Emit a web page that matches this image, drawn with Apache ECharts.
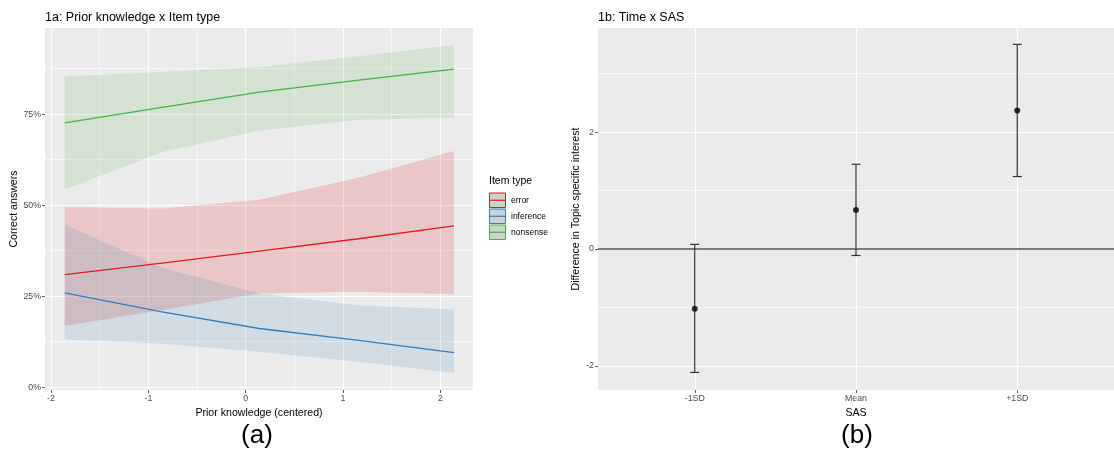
<!DOCTYPE html>
<html>
<head>
<meta charset="utf-8">
<script src="https://cdn.jsdelivr.net/npm/echarts@6/dist/echarts.min.js"></script>
<style>html,body{margin:0;padding:0;background:#fff}#c{width:1114px;height:454px}</style>
</head>
<body>
<div id="c"></div>
<script>
// ---------- Panel 1a data ----------
var priorKnowledge = [-1.86, -0.86, 0.14, 1.14, 2.14];
var itemTypes = ['error', 'inference', 'nonsense'];
var errorFit   = [0.309, 0.341, 0.374, 0.407, 0.443];
var errorLow   = [0.168, 0.212, 0.257, 0.262, 0.255];
var errorHigh  = [0.495, 0.491, 0.515, 0.574, 0.649];
var inferenceFit  = [0.259, 0.207, 0.161, 0.129, 0.095];
var inferenceLow  = [0.131, 0.120, 0.097, 0.070, 0.039];
var inferenceHigh = [0.447, 0.328, 0.257, 0.225, 0.213];
var nonsenseFit  = [0.726, 0.769, 0.811, 0.843, 0.874];
var nonsenseLow  = [0.543, 0.646, 0.705, 0.734, 0.741];
var nonsenseHigh = [0.854, 0.866, 0.880, 0.909, 0.940];
var xTicksA = [-2, -1, 0, 1, 2];
var xMinorA = [-1.5, -0.5, 0.5, 1.5];
var yTicksA = [0, 0.25, 0.5, 0.75];
var yMinorA = [0.125, 0.375, 0.625, 0.875];

// ---------- Panel 1b data ----------
var sasLevels = ['-1SD', 'Mean', '+1SD'];
var sasEstimate = [-1.02, 0.67, 2.37];
var sasLower = [-2.11, -0.11, 1.24];
var sasUpper = [0.08, 1.45, 3.50];
var yTicksB = [-2, 0, 2];
var yMinorB = [-1, 1, 3];

var colors = {error: '#E41A1C', inference: '#377EB8', nonsense: '#4DAF4A'};
var fills = {error: 'rgba(228,26,28,0.17)', inference: 'rgba(55,126,184,0.15)', nonsense: 'rgba(77,175,74,0.15)'};
var groups = {
  error: [errorFit, errorLow, errorHigh],
  inference: [inferenceFit, inferenceLow, inferenceHigh],
  nonsense: [nonsenseFit, nonsenseLow, nonsenseHigh]
};

var FONT = 'Liberation Sans, Arial, sans-serif';
var tickLbl = {color: '#4D4D4D', fontSize: 8.8, fontFamily: FONT};
var tickLine = {color: '#333333', width: 0.8};

function pairs(xs, ys) { return xs.map(function (x, i) { return [x, ys[i]]; }); }

var series = [];
// confidence ribbons: one polygon per item type, built through the axes
itemTypes.forEach(function (t) {
  var g = groups[t];
  series.push({
    type: 'custom', xAxisIndex: 0, yAxisIndex: 0, silent: true, z: 1,
    data: priorKnowledge.map(function (x, i) { return [x, g[1][i], g[2][i]]; }),
    encode: {x: 0, y: [1, 2]},
    renderItem: function (params, api) {
      if (params.dataIndex !== 0) return null;
      var pts = [];
      for (var i = 0; i < priorKnowledge.length; i++) pts.push(api.coord([priorKnowledge[i], g[2][i]]));
      for (var j = priorKnowledge.length - 1; j >= 0; j--) pts.push(api.coord([priorKnowledge[j], g[1][j]]));
      return {type: 'polygon', shape: {points: pts}, style: {fill: fills[t]}};
    }
  });
});
itemTypes.forEach(function (t) {
  series.push({
    name: t, type: 'line', xAxisIndex: 0, yAxisIndex: 0,
    data: pairs(priorKnowledge, groups[t][0]), symbol: 'none', silent: true,
    lineStyle: {color: colors[t], width: 1.3}, z: 3
  });
});

// error bars
series.push({
  type: 'custom', xAxisIndex: 2, yAxisIndex: 2, silent: true, z: 4,
  data: sasLevels.map(function (c, i) { return [i + 1, sasLower[i], sasUpper[i]]; }),
  encode: {x: 0, y: [1, 2]},
  renderItem: function (params, api) {
    var x = api.value(0);
    var lo = api.coord([x, api.value(1)]);
    var hi = api.coord([x, api.value(2)]);
    var w = 4.5;
    var st = {stroke: '#333333', lineWidth: 1.2};
    return {type: 'group', children: [
      {type: 'line', shape: {x1: lo[0], y1: lo[1], x2: hi[0], y2: hi[1]}, style: st},
      {type: 'line', shape: {x1: lo[0] - w, y1: lo[1], x2: lo[0] + w, y2: lo[1]}, style: st},
      {type: 'line', shape: {x1: hi[0] - w, y1: hi[1], x2: hi[0] + w, y2: hi[1]}, style: st}
    ]};
  }
});
series.push({
  type: 'scatter', xAxisIndex: 2, yAxisIndex: 2, silent: true, z: 5,
  data: sasLevels.map(function (c, i) { return [i + 1, sasEstimate[i]]; }),
  symbol: 'circle', symbolSize: 6, itemStyle: {color: '#000'},
  markLine: {
    silent: true, symbol: 'none', label: {show: false},
    lineStyle: {color: '#555555', width: 1.5, type: 'solid'},
    data: [{yAxis: 0}], z: 3
  }
});

var legendChildren = [{
  type: 'text', left: 489, top: 176,
  style: {text: 'Item type', fontSize: 10.5, fontFamily: FONT, fill: '#000'}
}];
itemTypes.forEach(function (t, i) {
  var y0 = 192.5 + i * 16;
  legendChildren.push({type: 'rect', shape: {x: 489.5, y: y0 + 0.5, width: 16, height: 14.5},
    style: {fill: '#d0d0d0', stroke: colors[t], lineWidth: 1}});
  legendChildren.push({type: 'line', shape: {x1: 490, y1: y0 + 7.75, x2: 505.5, y2: y0 + 7.75},
    style: {stroke: colors[t], lineWidth: 1.2}});
  legendChildren.push({type: 'text', x: 511, y: y0 + 8,
    style: {text: t, fontSize: 8.5, fontFamily: FONT, fill: '#000', textVerticalAlign: 'middle'}});
});

function valAxis(o) {
  return Object.assign({
    type: 'value', scale: false,
    axisLine: {show: false, onZero: false},
    axisTick: {show: true, length: 3, lineStyle: tickLine},
    axisLabel: Object.assign({margin: 3}, tickLbl),
    splitLine: {show: true, lineStyle: {color: '#FFFFFF', width: 1.2}},
    nameTextStyle: {color: '#000', fontSize: 10.6, fontFamily: FONT}
  }, o);
}
function minorAxis(o) {
  return Object.assign({
    type: 'value', axisLine: {show: false, onZero: false}, axisLabel: {show: false},
    splitLine: {show: true, lineStyle: {color: '#FFFFFF', width: 0.6}}
  }, o);
}

var titleStyle = {fontSize: 12.5, fontWeight: 'normal', color: '#000', fontFamily: FONT};
var capStyle = {fontSize: 26, fontWeight: 'normal', color: '#000', fontFamily: FONT};

var chart = echarts.init(document.getElementById('c'), null, {renderer: 'canvas'});
chart.setOption({
  animation: false,
  backgroundColor: '#ffffff',
  title: [
    {text: '1a: Prior knowledge x Item type', left: 45, top: 11.5, padding: 0, textStyle: titleStyle},
    {text: '1b: Time x SAS', left: 598, top: 11.5, padding: 0, textStyle: titleStyle},
    {text: '(a)', left: 257, top: 423, padding: 0, textAlign: 'center', textStyle: capStyle},
    {text: '(b)', left: 857, top: 423, padding: 0, textAlign: 'center', textStyle: capStyle}
  ],
  grid: [
    {left: 45, top: 28, right: 641, bottom: 64, show: true, backgroundColor: '#EBEBEB', borderWidth: 0},
    {left: 598, top: 28, right: -2, bottom: 64, show: true, backgroundColor: '#EBEBEB', borderWidth: 0}
  ],
  xAxis: [
    valAxis({gridIndex: 0, min: -2.062, max: 2.335, position: 'bottom',
      axisTick: {show: true, length: 3, lineStyle: tickLine, customValues: xTicksA},
      axisLabel: Object.assign({margin: 4, customValues: xTicksA}, tickLbl),
      name: 'Prior knowledge (centered)', nameLocation: 'middle', nameGap: 13}),
    minorAxis({gridIndex: 0, min: -2.062, max: 2.335, position: 'top',
      axisTick: {show: false, customValues: xMinorA}}),
    valAxis({gridIndex: 1, min: 0.4, max: 3.6, position: 'bottom',
      axisTick: {show: true, length: 3, lineStyle: tickLine, customValues: [1, 2, 3]},
      axisLabel: Object.assign({margin: 4, customValues: [1, 2, 3],
        formatter: function (v) { return sasLevels[Math.round(v) - 1] || ''; }}, tickLbl),
      name: 'SAS', nameLocation: 'middle', nameGap: 13})
  ],
  yAxis: [
    valAxis({gridIndex: 0, min: -0.008, max: 0.987, position: 'left',
      axisTick: {show: true, length: 3, lineStyle: tickLine, customValues: yTicksA},
      axisLabel: Object.assign({margin: 4, customValues: yTicksA,
        formatter: function (v) { return Math.round(v * 100) + '%'; }}, tickLbl),
      name: 'Correct answers', nameLocation: 'middle', nameRotate: 90, nameGap: 25}),
    minorAxis({gridIndex: 0, min: -0.008, max: 0.987, position: 'right',
      axisTick: {show: false, customValues: yMinorA}}),
    valAxis({gridIndex: 1, min: -2.41, max: 3.78, position: 'left',
      axisTick: {show: true, length: 3, lineStyle: tickLine, customValues: yTicksB},
      axisLabel: Object.assign({margin: 4, customValues: yTicksB}, tickLbl),
      name: 'Difference in Topic specific interest', nameLocation: 'middle', nameRotate: 90, nameGap: 16}),
    minorAxis({gridIndex: 1, min: -2.41, max: 3.78, position: 'right',
      axisTick: {show: false, customValues: yMinorB}})
  ],
  graphic: [{type: 'group', children: legendChildren}],
  series: series
});
</script>
</body>
</html>
